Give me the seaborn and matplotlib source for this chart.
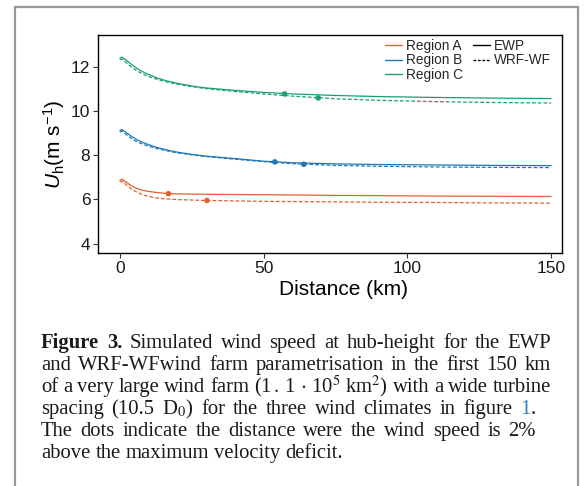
import matplotlib
matplotlib.use("Agg")
import matplotlib.pyplot as plt
from matplotlib.patches import Rectangle
from matplotlib.lines import Line2D
import seaborn as sns
import pandas as pd
import numpy as np

# ---------------- data ----------------
distance = [0, 0.7, 2, 4, 6, 8, 10, 13, 16, 20, 25, 30, 40, 50, 60, 75, 90, 110, 130, 150]

a_ewp = [6.86, 6.91, 6.80, 6.62, 6.49, 6.41, 6.36, 6.31, 6.27, 6.25, 6.24, 6.23, 6.22, 6.21, 6.20, 6.18, 6.17, 6.15, 6.14, 6.13]
a_wrf = [6.78, 6.83, 6.68, 6.47, 6.32, 6.21, 6.13, 6.06, 6.02, 5.99, 5.97, 5.95, 5.93, 5.91, 5.90, 5.89, 5.87, 5.86, 5.84, 5.83]
b_ewp = [9.12, 9.17, 9.05, 8.86, 8.70, 8.58, 8.48, 8.35, 8.25, 8.14, 8.04, 7.96, 7.85, 7.73, 7.66, 7.61, 7.58, 7.56, 7.54, 7.53]
b_wrf = [9.05, 9.10, 8.96, 8.76, 8.61, 8.50, 8.41, 8.30, 8.21, 8.11, 8.02, 7.94, 7.82, 7.71, 7.62, 7.54, 7.50, 7.47, 7.45, 7.44]
c_ewp = [12.40, 12.45, 12.33, 12.12, 11.93, 11.78, 11.66, 11.50, 11.38, 11.26, 11.14, 11.05, 10.94, 10.85, 10.78, 10.71, 10.66, 10.62, 10.59, 10.57]
c_wrf = [12.33, 12.37, 12.22, 12.00, 11.82, 11.68, 11.57, 11.44, 11.33, 11.22, 11.11, 11.02, 10.89, 10.78, 10.68, 10.56, 10.49, 10.43, 10.39, 10.37]

regions = ["Region A", "Region B", "Region C"]
models = ["EWP", "WRF-WF"]

dot_region = ["Region A", "Region A", "Region B", "Region B", "Region C", "Region C"]
dot_model = ["EWP", "WRF-WF", "EWP", "WRF-WF", "EWP", "WRF-WF"]
dot_x = [16.9, 30.3, 53.9, 64.0, 57.3, 69.0]
dot_y = [6.26, 5.95, 7.70, 7.59, 10.78, 10.60]

x_ticks = [0, 50, 100, 150]
y_ticks = [4, 6, 8, 10, 12]

colors = {"Region A": "#E0622E", "Region B": "#1F77B4", "Region C": "#1A9E77"}

caption_title = "Figure 3."
caption_lines = [
    "Simulated wind speed at hub-height for the EWP",
    "and WRF-WFwind farm parametrisation in the first 150 km",
    "of a very large wind farm (1$\\,.\\,$1$\\,\\cdot\\,$10$^{5}$ km$^{2}$) with a wide turbine",
    "spacing (10.5 D$_{0}$) for the three wind climates in figure [1].",
    "The dots indicate the distance were the wind speed is 2%",
    "above the maximum velocity deficit.",
]

# ---------------- frame ----------------
series = {("Region A", "EWP"): a_ewp, ("Region A", "WRF-WF"): a_wrf,
          ("Region B", "EWP"): b_ewp, ("Region B", "WRF-WF"): b_wrf,
          ("Region C", "EWP"): c_ewp, ("Region C", "WRF-WF"): c_wrf}
rows = []
for (r, m), vals in series.items():
    for d, v in zip(distance, vals):
        rows.append({"Distance": d, "U": v, "Region": r, "Model": m})
df = pd.DataFrame(rows)
dots = pd.DataFrame({"Distance": dot_x, "U": dot_y, "Region": dot_region, "Model": dot_model})

sns.set_theme(style="white")
plt.rcParams["font.family"] = ["Liberation Sans", "DejaVu Sans"]
plt.rcParams["mathtext.fontset"] = "custom"
plt.rcParams["mathtext.rm"] = "Liberation Sans"
plt.rcParams["mathtext.it"] = "Liberation Sans:italic"

W, H = 584, 486
fig = plt.figure(figsize=(W / 100, H / 100), dpi=100)
fig.patch.set_facecolor("white")
ax = fig.add_axes([98 / W, 1 - 253 / H, (562 - 98) / W, (253 - 35) / H])

sns.lineplot(data=df, x="Distance", y="U", hue="Region", style="Model",
             palette=colors, dashes={"EWP": "", "WRF-WF": (3, 1.6)},
             linewidth=0.9, ax=ax, legend=False, estimator=None, sort=False)
sns.scatterplot(data=dots, x="Distance", y="U", hue="Region", palette=colors,
                s=16, edgecolor="none", ax=ax, legend=False, zorder=5)

ax.set_xlim(-7.6, 153.8)
ax.set_ylim(3.57, 13.45)
ax.set_xticks(x_ticks)
ax.set_yticks(y_ticks)
ax.tick_params(axis="both", which="both", direction="out", length=3.5, width=0.8,
               color="#333333", labelsize=12.5, labelcolor="#1a1a1a", pad=2,
               bottom=True, left=True)
for s in ax.spines.values():
    s.set_color("black")
    s.set_linewidth(1.0)
ax.set_xlabel("Distance (km)", fontsize=15, color="black")
ax.xaxis.set_label_coords(0.53, -0.125)
ax.set_ylabel("$U_{\\mathrm{h}}$(m s$^{-1}$)", fontsize=15, labelpad=3, color="black")

handles = [Line2D([], [], color=colors[r], lw=1.0) for r in regions]
handles += [Line2D([], [], color="black", lw=1.0, ls="-"),
            Line2D([], [], color="black", lw=1.0, dashes=(2, 1.2))]
labels = regions + models
leg = fig.legend(handles, labels, ncol=2, loc="upper right",
                 bbox_to_anchor=(551 / W, 1 - 39 / H), bbox_transform=fig.transFigure,
                 frameon=False, fontsize=9.8, handlelength=1.25, handletextpad=0.3,
                 columnspacing=0.7, labelspacing=0.02, borderpad=0, borderaxespad=0)

# border box
fig.patches.append(Rectangle((15 / W, -0.05), (578 - 15) / W, 1.05 - 7 / H,
                             transform=fig.transFigure, fill=False,
                             edgecolor="#999999", linewidth=1.6))

# caption (word-justified lines)
cap_kw = dict(fontsize=14.9, family=["Liberation Serif", "DejaVu Serif"],
              math_fontfamily="stix", color="#1a1a1a", va="baseline", ha="left")
link_color = "#2a7fc8"
x_left = 41
base0 = 348
step = 22
right_edges = [551, 551, 551, 536, 536, None]
renderer = fig.canvas.get_renderer()


def tokens_for(i, line):
    toks = []
    if i == 0:
        toks.append([("Figure", "bold", None)])
        toks.append([("3.", "bold", None)])
    for w in line.split(" "):
        if "[" in w:
            pre, rest = w.split("[")
            mid, post = rest.split("]")
            parts = []
            if pre:
                parts.append((pre, "normal", None))
            parts.append((mid, "normal", link_color))
            if post:
                parts.append((post, "normal", None))
            toks.append(parts)
        else:
            toks.append([(w, "normal", None)])
    return toks


def width_of(txt, weight):
    t = fig.text(0, 0, txt, fontweight=weight, **cap_kw)
    w = t.get_window_extent(renderer).width
    t.remove()
    return w


space_w = width_of("a b", "normal") - width_of("ab", "normal")

for i, line in enumerate(caption_lines):
    y = 1 - (base0 + step * i) / H
    toks = tokens_for(i, line)
    widths = [[width_of(p[0], p[1]) for p in tok] for tok in toks]
    total = sum(sum(w) for w in widths)
    n_gaps = len(toks) - 1
    target = right_edges[i]
    gap = space_w if target is None or n_gaps == 0 else (target - x_left - total) / n_gaps
    x = x_left
    for tok, ws in zip(toks, widths):
        for (txt, weight, col), w in zip(tok, ws):
            kw = dict(cap_kw)
            if col:
                kw["color"] = col
            fig.text(x / W, y, txt, fontweight=weight, **kw)
            x += w
        x += gap

fig.savefig("out.png", dpi=100, facecolor="white")
